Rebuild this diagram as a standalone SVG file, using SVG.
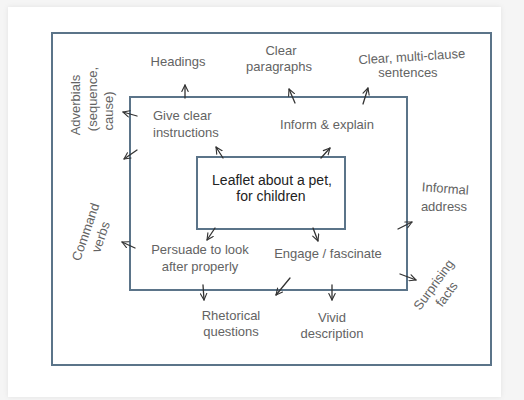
<svg xmlns="http://www.w3.org/2000/svg" width="524" height="400" viewBox="0 0 524 400">
<defs>
<filter id="sh" x="-5%" y="-5%" width="110%" height="110%">
<feDropShadow dx="0" dy="0" stdDeviation="2.5" flood-color="#000" flood-opacity="0.08"/>
</filter>
<marker id="ah" viewBox="0 0 10 10" refX="9" refY="5" markerWidth="8" markerHeight="8" markerUnits="userSpaceOnUse" orient="auto">
<path d="M1,1 L9,5 L1,9" fill="none" stroke="#333" stroke-width="1.4" stroke-linecap="round" stroke-linejoin="round"/>
</marker>
<style>
.box{fill:none;stroke:#5b7489;stroke-width:2}
.lbl{font-family:"Liberation Sans","DejaVu Sans",sans-serif;font-size:13px;fill:#636363;text-anchor:middle}
.st{text-anchor:start}
.main{font-family:"Liberation Sans","DejaVu Sans",sans-serif;font-size:14px;fill:#222;text-anchor:middle}
.arr{stroke:#333;stroke-width:1.3;fill:none;marker-end:url(#ah);stroke-linecap:round}
</style>
</defs>
<rect x="0" y="0" width="524" height="400" fill="#f5f5f5"/>
<rect x="8" y="7" width="493" height="390" fill="#fff" filter="url(#sh)"/>

<g id="outer"><rect class="box" x="52" y="33" width="439" height="332"/></g>
<g id="inner"><rect class="box" x="130" y="97" width="277" height="193"/></g>
<g id="center"><rect class="box" x="197" y="157" width="148" height="72" fill="#fff"/>
<text class="main" x="272" y="185">Leaflet about a pet,</text>
<text class="main" x="271" y="201">for children</text></g>

<g id="purposes">
<g id="give"><text class="lbl st" x="153" y="120">Give clear</text><text class="lbl st" x="153" y="137">instructions</text></g>
<g id="inform"><text class="lbl" x="327" y="129">Inform &amp; explain</text></g>
<g id="persuade"><text class="lbl" x="200" y="254">Persuade to look</text><text class="lbl" x="200" y="271">after properly</text></g>
<g id="engage"><text class="lbl" x="328" y="258">Engage / fascinate</text></g>
</g>

<g id="features">
<g id="headings"><text class="lbl" x="178" y="66">Headings</text></g>
<g id="paragraphs"><text class="lbl" x="281" y="55">Clear</text><text class="lbl" x="279" y="71">paragraphs</text></g>
<g id="sentences"><text class="lbl" x="412" y="61" transform="rotate(-3.5 412 61)">Clear, multi-clause</text><text class="lbl" x="408" y="77">sentences</text></g>
<g id="adverbials">
<text class="lbl" transform="translate(80 105) rotate(-90)">Adverbials</text>
<text class="lbl" transform="translate(97 99) rotate(-90)">(sequence,</text>
<text class="lbl" transform="translate(113 111) rotate(-90)">cause)</text>
</g>
<g id="command" transform="translate(86 232) rotate(-71)">
<text class="lbl" x="0" y="4">Command</text><text class="lbl" x="0" y="20">verbs</text>
</g>
<g id="informal"><text class="lbl" x="445" y="193" transform="rotate(4 445 193)">Informal</text><text class="lbl" x="444" y="211">address</text></g>
<g id="surprising" transform="translate(434 285) rotate(-54)">
<text class="lbl" x="0" y="4">Surprising</text><text class="lbl" x="0" y="20">facts</text>
</g>
<g id="rhetorical"><text class="lbl" x="231" y="320">Rhetorical</text><text class="lbl" x="231" y="336">questions</text></g>
<g id="vivid"><text class="lbl" x="332" y="322">Vivid</text><text class="lbl" x="332" y="338">description</text></g>
</g>

<g id="connectors">
<path class="arr" d="M185,98 L185,85"/>
<path class="arr" d="M295,103 L289,89"/>
<path class="arr" d="M363,104 L368,88"/>
<path class="arr" d="M137,116 L123,112"/>
<path class="arr" d="M137,150 L124,159"/>
<path class="arr" d="M223,158 L216,147"/>
<path class="arr" d="M321,158 L330,148"/>
<path class="arr" d="M215,228 L207,240"/>
<path class="arr" d="M313,228 L318,241"/>
<path class="arr" d="M135,248 L122,242"/>
<path class="arr" d="M398,229 L412,222"/>
<path class="arr" d="M400,274 L416,280"/>
<path class="arr" d="M203,285 L204,300"/>
<path class="arr" d="M290,278 L276,295"/>
<path class="arr" d="M332,285 L332,300"/>
</g>
</svg>
